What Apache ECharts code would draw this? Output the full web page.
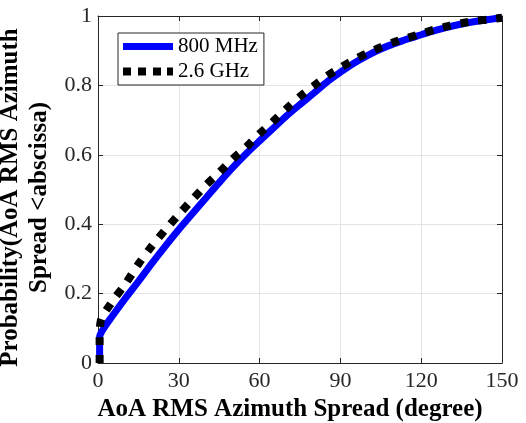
<!DOCTYPE html>
<html>
<head>
<meta charset="utf-8">
<script src="https://cdn.jsdelivr.net/npm/echarts@6/dist/echarts.min.js"></script>
<style>
html,body{margin:0;padding:0;background:#fff;}
#c{width:526px;height:423px;}
</style>
</head>
<body>
<div id="c"></div>
<script>
// Data
var xTicks = [0, 30, 60, 90, 120, 150];
var yTicks = [0, 0.2, 0.4, 0.6, 0.8, 1];
var seriesNames = ['800 MHz', '2.6 GHz'];
var x800 = [0.6, 0.6, 2, 5, 10, 15, 20, 25, 30, 35, 40, 45, 50, 55, 60, 65, 70, 75, 80, 85, 90, 95, 100, 105, 110, 115, 120, 125, 130, 135, 140, 145, 150];
var y800 = [0, 0.075, 0.098, 0.132, 0.185, 0.235, 0.287, 0.337, 0.385, 0.43, 0.475, 0.52, 0.563, 0.603, 0.64, 0.676, 0.712, 0.745, 0.777, 0.81, 0.838, 0.864, 0.886, 0.905, 0.92, 0.934, 0.946, 0.958, 0.968, 0.977, 0.984, 0.99, 0.995];
var x26 = [0.6, 0.6, 1, 5, 10, 15, 20, 25, 30, 35, 40, 45, 50, 55, 60, 65, 70, 75, 80, 85, 90, 95, 100, 105, 110, 115, 120, 125, 130, 135, 140, 145, 150];
var y26 = [0, 0.07, 0.12, 0.174, 0.226, 0.285, 0.337, 0.384, 0.428, 0.471, 0.512, 0.549, 0.588, 0.622, 0.661, 0.696, 0.733, 0.768, 0.798, 0.827, 0.851, 0.874, 0.893, 0.91, 0.925, 0.937, 0.949, 0.961, 0.971, 0.979, 0.986, 0.99, 0.995];

function pairs(xs, ys) { return xs.map(function (x, i) { return [x, ys[i]]; }); }

var FONT = '"Times New Roman", "Liberation Serif", serif';
var chart = echarts.init(document.getElementById('c'), null, {renderer: 'canvas'});

var axisCommon = {
  axisLine: {show: true, onZero: false, lineStyle: {color: '#262626', width: 1}},
  axisTick: {show: true, inside: true, length: 5, lineStyle: {color: '#262626'}}
};

chart.setOption({
  animation: false,
  backgroundColor: '#fff',
  textStyle: {fontFamily: FONT},
  grid: {left: 98, right: 24, top: 16, bottom: 60, containLabel: false, outerBoundsMode: 'none'},
  legend: {
    orient: 'vertical',
    left: 118, top: 33,
    data: [
      {name: seriesNames[0], icon: 'path://M0,0h50v7h-50z'},
      {name: seriesNames[1], icon: 'path://M0,0h8v8h-8zM15,0h8v8h-8zM30,0h8v8h-8zM44,0h6v8h-6z'}
    ],
    symbolKeepAspect: true,
    itemWidth: 50, itemHeight: 14, itemGap: 4,
    padding: [3, 6, 3, 5],
    backgroundColor: '#fff',
    borderColor: '#262626', borderWidth: 1, borderRadius: 0,
    itemStyle: {borderWidth: 0},
    textStyle: {fontFamily: FONT, fontSize: 21, color: '#000'}
  },
  xAxis: [
    Object.assign({
      type: 'value', position: 'bottom', min: xTicks[0], max: xTicks[xTicks.length - 1], interval: 30,
      name: 'AoA RMS Azimuth Spread (degree)', nameLocation: 'middle', nameGap: 31,
      nameTextStyle: {fontFamily: FONT, fontSize: 25, fontWeight: 'bold', color: '#000', padding: [0, 20, 0, 0]},
      axisLabel: {fontFamily: FONT, fontSize: 22, color: '#262626', margin: 7},
      splitLine: {show: true, lineStyle: {color: '#e3e3e3', width: 1}}
    }, axisCommon),
    Object.assign({
      type: 'value', position: 'top', min: xTicks[0], max: xTicks[xTicks.length - 1], interval: 30,
      axisLabel: {show: false}, splitLine: {show: false}
    }, axisCommon)
  ],
  yAxis: [
    Object.assign({
      type: 'value', position: 'left', min: yTicks[0], max: yTicks[yTicks.length - 1], interval: 0.2,
      name: 'Probability(AoA RMS Azimuth\nSpread <abscissa)', nameLocation: 'middle', nameGap: 36,
      nameTextStyle: {fontFamily: FONT, fontSize: 25, fontWeight: 'bold', color: '#000', lineHeight: 29, padding: [0, 16, 0, 0]},
      axisLabel: {fontFamily: FONT, fontSize: 22, color: '#262626', margin: 6},
      splitLine: {show: true, lineStyle: {color: '#e3e3e3', width: 1}}
    }, axisCommon),
    Object.assign({
      type: 'value', position: 'right', min: yTicks[0], max: yTicks[yTicks.length - 1], interval: 0.2,
      axisLabel: {show: false}, splitLine: {show: false}
    }, axisCommon)
  ],
  series: [
    {
      name: seriesNames[0], type: 'line', xAxisIndex: 0, yAxisIndex: 0,
      data: pairs(x800, y800), showSymbol: false, symbol: 'none', smooth: 0.3,
      lineStyle: {color: '#0000ff', width: 7, cap: 'butt'},
      itemStyle: {color: '#0000ff'}
    },
    {
      name: seriesNames[1], type: 'line', xAxisIndex: 0, yAxisIndex: 0,
      data: pairs(x26, y26), showSymbol: false, symbol: 'none', smooth: 0.3,
      lineStyle: {color: '#000000', width: 8, type: [8, 10], cap: 'butt'},
      itemStyle: {color: '#000000'}
    }
  ]
});
</script>
</body>
</html>
